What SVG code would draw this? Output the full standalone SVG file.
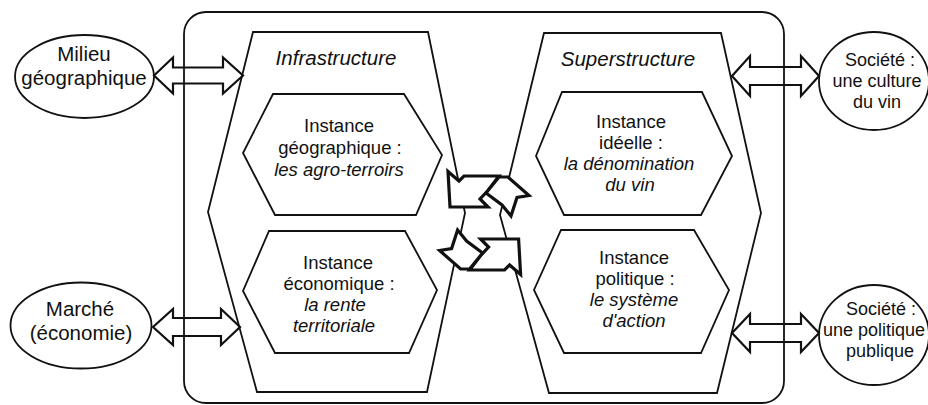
<svg xmlns="http://www.w3.org/2000/svg" xmlns:xlink="http://www.w3.org/1999/xlink" width="928" height="405" viewBox="0 0 928 405">
<style>
.s{fill:#fff;stroke:#111;stroke-width:1.8;stroke-linejoin:miter}
.n{fill:none;stroke:#111;stroke-width:1.8}
.da{fill:none;stroke:#111;stroke-width:2.2;stroke-linejoin:miter}
.ca{fill:#fff;stroke:#111;stroke-width:3.2;stroke-linejoin:miter}
text{font-family:"Liberation Sans",Arial,sans-serif;fill:#111;text-anchor:middle}
.t{font-size:18.5px}
.h{font-size:20.5px}
.i{font-style:italic}
.el{font-size:20.5px}
.er{font-size:18px}
</style>
<defs>
<g id="pair">
<polygon class="ca" points="448,171.5 459,181 464,176 499,176 488,190.5 480,199 488,207 450,207"/>
<polygon class="ca" points="486,193 499,177 508,177 529,195.5 517,197.5 511,216 502,205"/>
</g>
</defs>
<rect id="frame" class="n" x="184" y="12" width="600" height="391" rx="22"/>
<g id="infrastructure">
<polygon class="s" points="253,32 428,32 465,213 427,392 257,392 208,212"/>
<text class="h i" x="336" y="65">Infrastructure</text>
</g>
<g id="superstructure">
<polygon class="s" points="544,33 721,33 761,213 717,393 549,393 500,215"/>
<text class="h i" x="628" y="66">Superstructure</text>
</g>
<g id="inst-geo">
<polygon class="s" points="273,94 404,94 442,155 416,215 275,215 243,153"/>
<text class="t" x="339" y="132">Instance</text>
<text class="t" x="340" y="154">géographique :</text>
<text class="t i" x="339" y="176">les agro-terroirs</text>
</g>
<g id="inst-eco">
<polygon class="s" points="269,231 405,231 437,290 409,353 275,353 243,291"/>
<text class="t" x="338" y="269">Instance</text>
<text class="t" x="339" y="290">économique :</text>
<text class="t i" x="335" y="311">la rente</text>
<text class="t i" x="334" y="332">territoriale</text>
</g>
<g id="inst-ide">
<polygon class="s" points="562,92 702,92 732,156 701,215 564,215 536,156"/>
<text class="t" x="631" y="128">Instance</text>
<text class="t" x="631" y="149">idéelle :</text>
<text class="t i" x="629" y="170">la dénomination</text>
<text class="t i" x="630" y="191">du vin</text>
</g>
<g id="inst-pol">
<polygon class="s" points="561,230 694,230 729,290 701,353 564,353 534,290"/>
<text class="t" x="634" y="264">Instance</text>
<text class="t" x="635" y="285">politique :</text>
<text class="t i" x="634" y="306">le système</text>
<text class="t i" x="634" y="327">d'action</text>
</g>
<g id="milieu">
<ellipse class="s" cx="84.5" cy="76.5" rx="69.5" ry="41.5"/>
<text class="el" x="84" y="61">Milieu</text>
<text class="el" x="84" y="85">géographique</text>
</g>
<g id="marche">
<ellipse class="s" cx="81" cy="325.5" rx="70.5" ry="43"/>
<text class="el" x="80" y="316">Marché</text>
<text class="el" x="81" y="340">(économie)</text>
</g>
<g id="societe-culture">
<ellipse class="s" cx="874" cy="81" rx="55" ry="49"/>
<text class="er" x="880" y="66">Société :</text>
<text class="er" x="877" y="87">une culture</text>
<text class="er" x="877" y="108">du vin</text>
</g>
<g id="societe-politique">
<ellipse class="s" cx="874" cy="335" rx="55" ry="50"/>
<text class="er" x="881" y="315">Société :</text>
<text class="er" x="874" y="336">une politique</text>
<text class="er" x="880" y="357">publique</text>
</g>
<g id="connectors">
<polygon class="da" points="154,75.5 173,57.5 173,67.5 223,67.5 223,57.5 243,75.5 223,93.5 223,83.5 173,83.5 173,93.5"/>
<polygon class="da" points="153,327 173,309 173,318 221,318 221,309 240,327 221,345 221,336 173,336 173,345"/>
<polygon class="da" points="732,76 750,56 750,67 801,67 801,56 819,76 801,96 801,85 750,85 750,96"/>
<polygon class="da" points="732,333 750,314 750,324 801,324 801,314 819,333 801,352 801,342 750,342 750,352"/>
<use xlink:href="#pair"/>
<use xlink:href="#pair" transform="rotate(180 484.3 223)"/>
</g>
</svg>
